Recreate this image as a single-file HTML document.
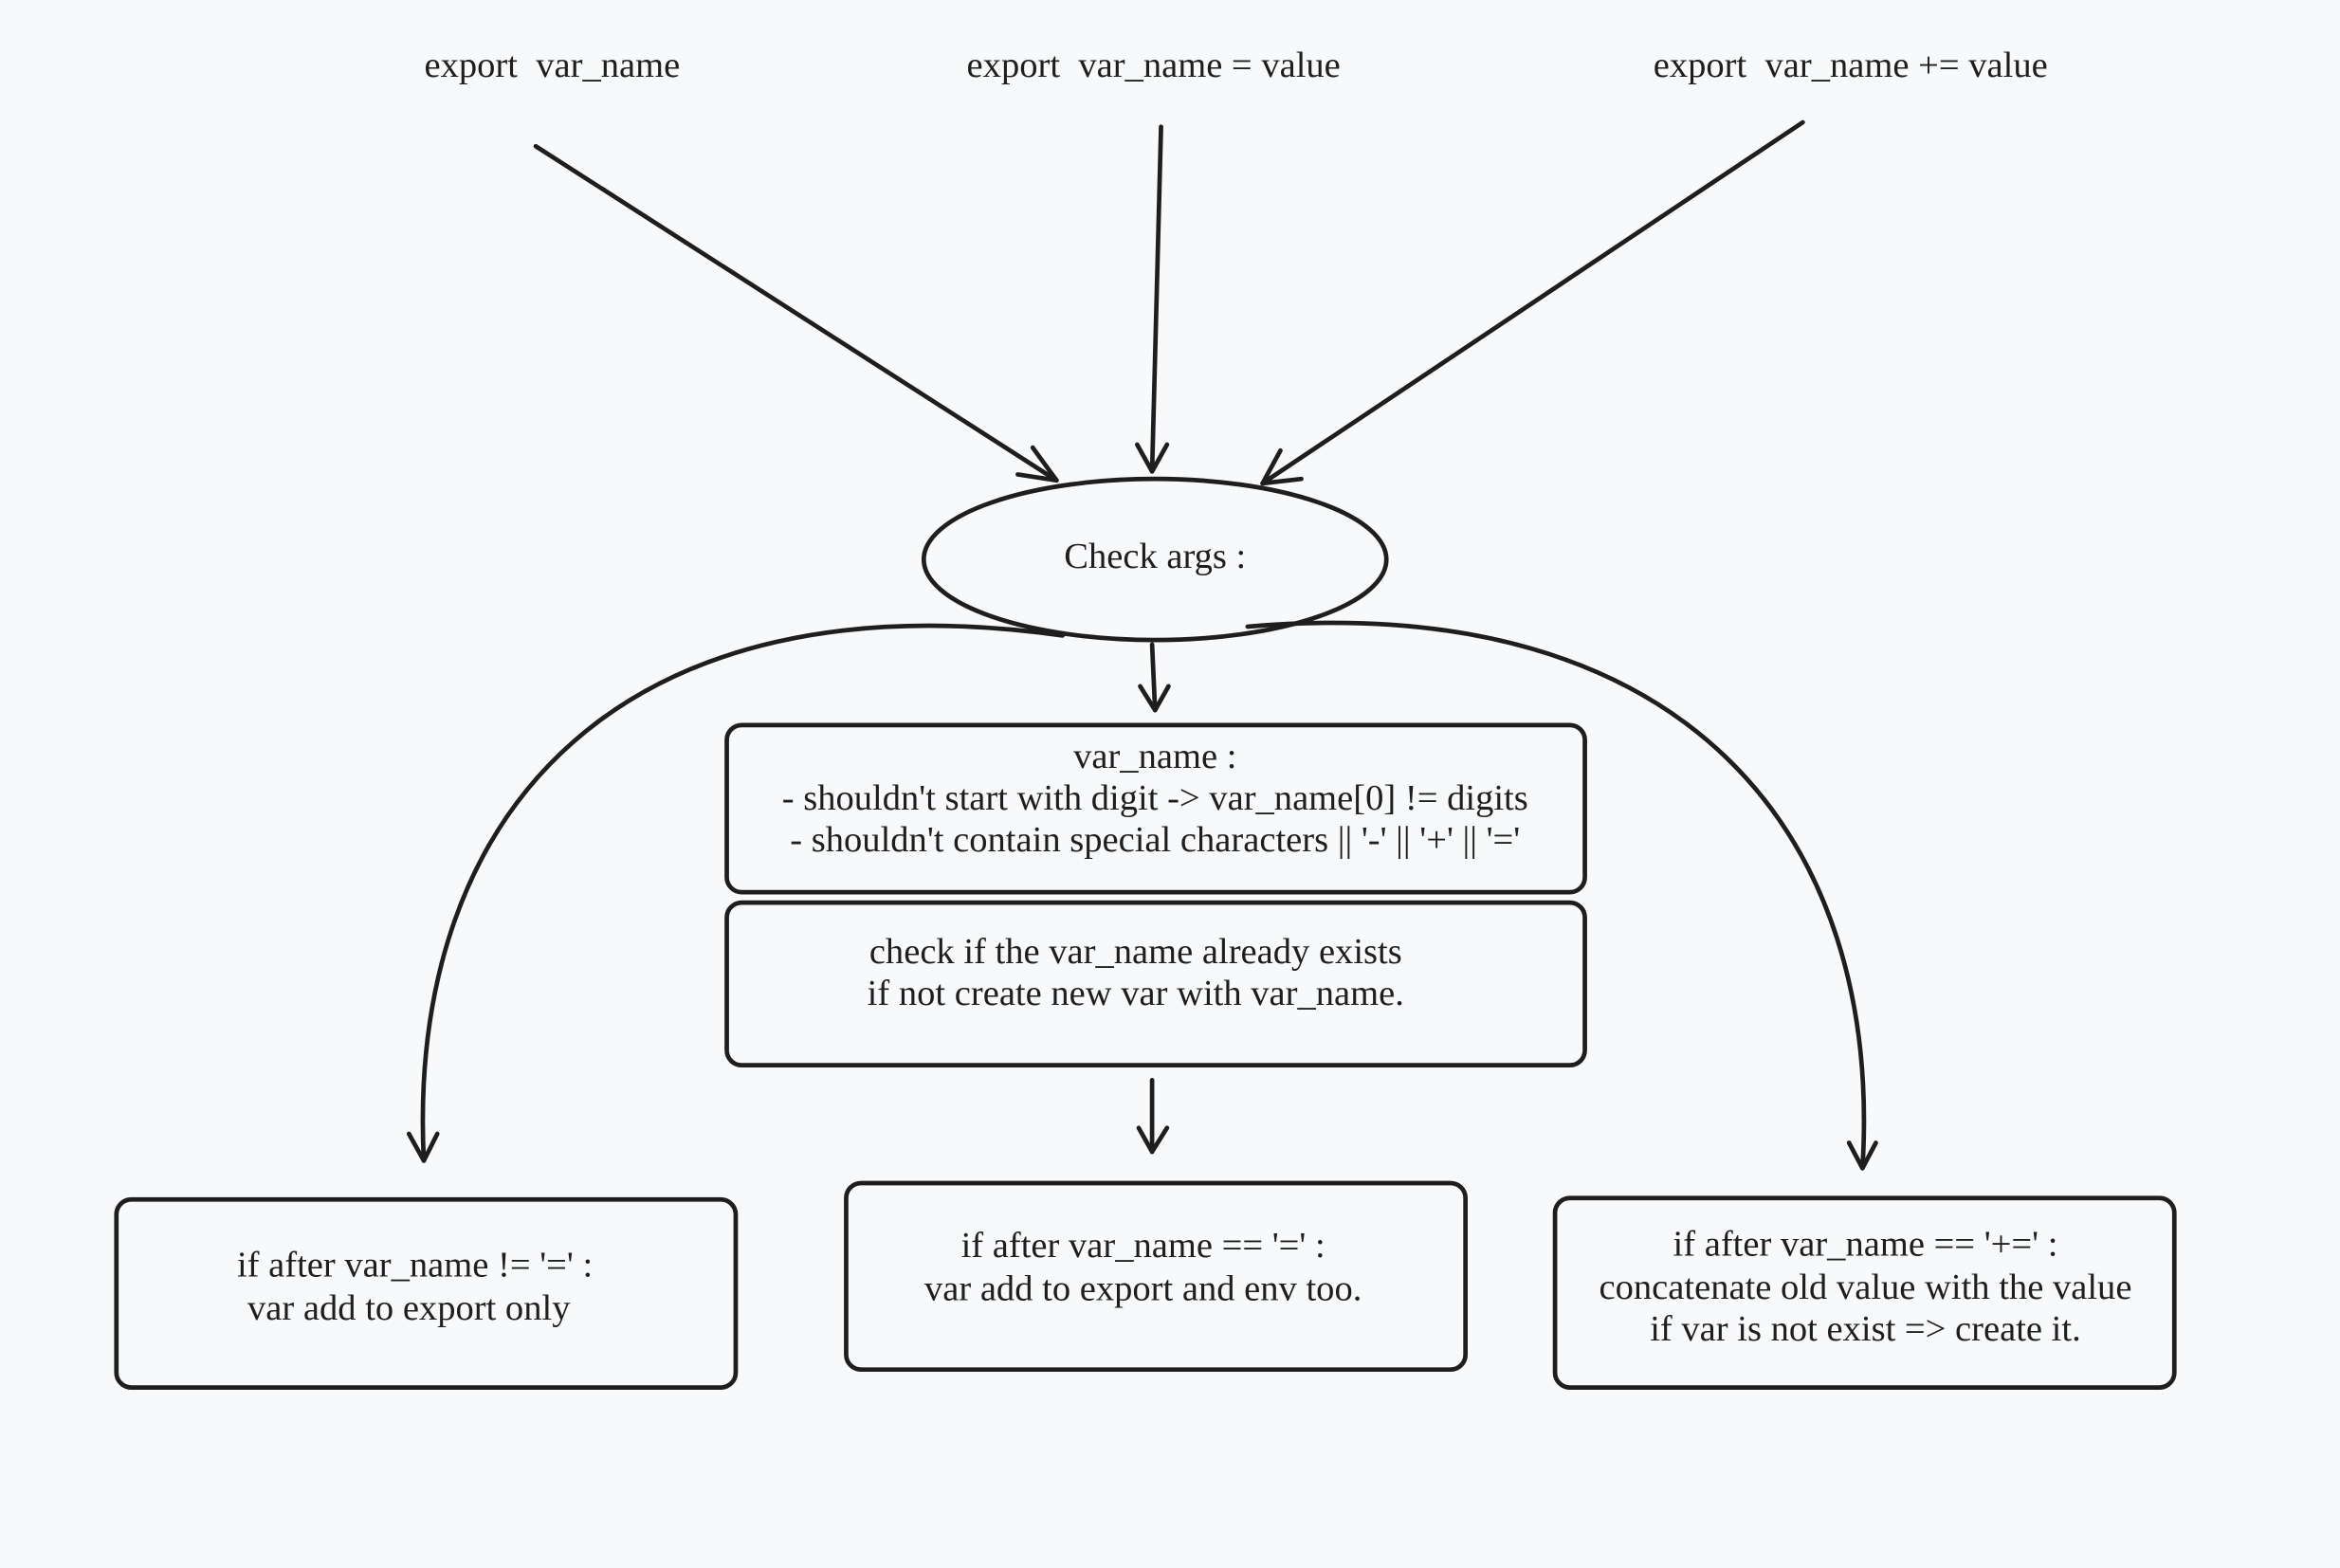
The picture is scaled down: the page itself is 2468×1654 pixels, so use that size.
<!DOCTYPE html>
<html><head><meta charset="utf-8"><style>
html,body{margin:0;padding:0;background:#f8f9fa;}
svg{display:block}
text{font-family:"Liberation Serif",serif;font-size:24.5px;fill:#1e1e1e;text-anchor:middle;dominant-baseline:middle;white-space:pre}
</style></head><body>
<svg width="2468" height="1654" viewBox="0 0 1568 1051" preserveAspectRatio="none">
<rect width="1568" height="1051" fill="#f8f9fa"/>
<g fill="none" stroke="#1e1e1e" stroke-width="3" stroke-linecap="round" stroke-linejoin="round">
<path d="M359 98 L708 322"/><path d="M692 300 L708 322 L682 318"/>
<path d="M778 85 L772 316"/><path d="M762 298 L772 316 L782 298"/>
<path d="M1208 82 L846 324"/><path d="M858 302 L846 324 L872 321"/>
<ellipse cx="774" cy="375" rx="155" ry="54"/>
<path d="M772 432 L774 476"/><path d="M764 460 L774 476 L783 460"/>
<rect x="487" y="486" width="575" height="112" rx="10"/>
<rect x="487" y="605" width="575" height="109" rx="10"/>
<path d="M772 724 L772 772"/><path d="M763 756 L772 772 L782 756"/>
<path d="M712 426 C 420 385, 272 540, 284 778"/><path d="M274 760 L284 778 L293 760"/>
<path d="M836 420 C 1130 395, 1262 560, 1248 783"/><path d="M1239 766 L1248 783 L1257 766"/>
<rect x="78" y="804" width="415" height="126" rx="10"/>
<rect x="567" y="793" width="415" height="125" rx="10"/>
<rect x="1042" y="803" width="415" height="127" rx="10"/>
</g>
<text x="370" y="46">export  var_name</text>
<text x="773" y="46">export  var_name = value</text>
<text x="1240" y="46">export  var_name += value</text>
<text x="774" y="375">Check args :</text>
<text x="774" y="509">var_name :</text>
<text x="774" y="537">- shouldn't start with digit -&gt; var_name[0] != digits</text>
<text x="774" y="565">- shouldn't contain special characters || '-' || '+' || '='</text>
<text x="761" y="640">check if the var_name already exists</text>
<text x="761" y="668">if not create new var with var_name.</text>
<text x="278" y="850">if after var_name != '=' :</text>
<text x="274" y="879">var add to export only</text>
<text x="766" y="837">if after var_name == '=' :</text>
<text x="766" y="866">var add to export and env too.</text>
<text x="1250" y="836">if after var_name == '+=' :</text>
<text x="1250" y="865">concatenate old value with the value</text>
<text x="1250" y="893">if var is not exist =&gt; create it.</text>
</svg>
</body></html>
